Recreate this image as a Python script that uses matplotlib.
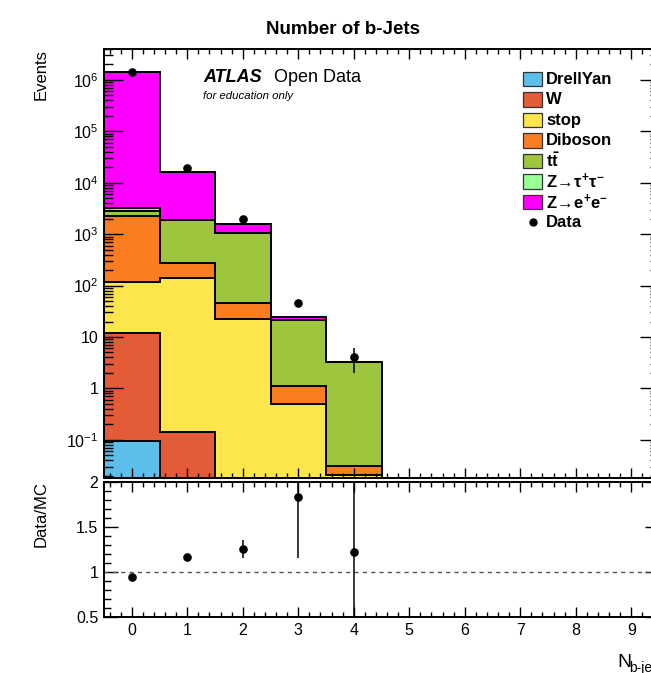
import numpy as np
import matplotlib
matplotlib.use('Agg')
import matplotlib.pyplot as plt
from matplotlib.patches import Rectangle
from matplotlib.lines import Line2D
from matplotlib.ticker import FixedLocator, FixedFormatter, MultipleLocator, LogLocator, NullFormatter

plt.rcParams['font.family'] = ['Liberation Sans', 'DejaVu Sans']
plt.rcParams['mathtext.fontset'] = 'custom'
plt.rcParams['mathtext.rm'] = 'Liberation Sans'
plt.rcParams['mathtext.it'] = 'Liberation Sans:italic'
plt.rcParams['mathtext.bf'] = 'Liberation Sans:bold'

# number of b-jets per bin, stacked MC from bottom to top
n_bjets = [0, 1, 2, 3, 4]
drellyan = [0.096, 0, 0, 0, 0]
w_jets = [11.8, 0.144, 0, 0, 0]
stop = [103, 139, 22.5, 0.49, 0.021]
diboson = [2155, 134, 24.3, 0.63, 0.010]
ttbar = [505, 1597, 998, 20.2, 3.30]
ztautau = [470, 0, 0, 0, 0]
zee = [1447000, 14390, 562, 3.7, 0]

data = [1410000, 19000, 2010, 45, 4]
ratio = [0.948, 1.17, 1.26, 1.83, 1.225]
ratio_err = [0.005, 0.01, 0.1, 0.67, 1.1]

labels = ['DrellYan', 'W', 'stop', 'Diboson', r'$\mathbf{t\bar{t}}$',
          r'$\mathbf{Z\!\rightarrow\!\tau^{+}\tau^{-}}$', r'$\mathbf{Z\!\rightarrow\!e^{+}e^{-}}$']
colors = ['#5cbfea', '#e35b37', '#fde54c', '#fa7d22', '#9ec53e', '#99ff99', '#ff00ff']

W, H = 651, 673
def fx(x):
    return x / W
def fy(y):
    return 1 - y / H

fig = plt.figure(figsize=(W / 100, H / 100), dpi=100)
ax_r = fig.add_axes([fx(104), fy(617), 555 / W, 135 / H])
ax = fig.add_axes([fx(104), fy(478), 555 / W, 429 / H])

edges = np.arange(len(n_bjets) + 1) - 0.5
stack = np.array([drellyan, w_jets, stop, diboson, ttbar, ztautau, zee], dtype=float)
cum = np.cumsum(stack, axis=0)
floor = 1e-6
for i in range(len(stack) - 1, -1, -1):
    vals = np.where(cum[i] > 0, cum[i], floor)
    ax.stairs(vals, edges, baseline=floor, fill=True, color=colors[i], lw=0)
    ax.stairs(vals, edges, baseline=floor, color='black', lw=1.4)

ax.errorbar(n_bjets, data, yerr=np.sqrt(data), fmt='o', color='black', ms=5.2,
            elinewidth=1.1, capsize=0, zorder=5)

ax.set_yscale('log')
ax.set_xlim(-0.5, 9.5)
ax.set_ylim(0.0181, 4.0e6)
yt = [1e-1, 1, 10, 1e2, 1e3, 1e4, 1e5, 1e6]
ax.yaxis.set_major_locator(FixedLocator(yt))
ax.yaxis.set_major_formatter(FixedFormatter([r'$10^{-1}$', '1', '10', r'$10^{2}$', r'$10^{3}$',
                                             r'$10^{4}$', r'$10^{5}$', r'$10^{6}$']))
ax.yaxis.set_minor_locator(LogLocator(base=10, subs=np.arange(2, 10), numticks=30))
ax.yaxis.set_minor_formatter(NullFormatter())
ax.xaxis.set_major_locator(MultipleLocator(1))
ax.xaxis.set_minor_locator(MultipleLocator(0.2))
ax.tick_params(which='both', direction='in', top=True, right=True, labelbottom=False,
               labelsize=11.5, width=1.0, pad=4)
ax.tick_params(axis='y', which='major', length=13.7)
ax.tick_params(axis='y', which='minor', length=6.5)
ax.tick_params(axis='x', which='major', length=7.2)
ax.tick_params(axis='x', which='minor', length=3.6)
for s in ax.spines.values():
    s.set_linewidth(1.4)

# ratio panel
ax_r.axhline(1, color='#555555', lw=1.0, ls=(0, (3, 3)))
ax_r.errorbar(n_bjets, ratio, yerr=ratio_err, fmt='o', color='black', ms=5.2,
              elinewidth=1.1, capsize=0, zorder=5)
ax_r.set_xlim(-0.5, 9.5)
ax_r.set_ylim(0.5, 2.0)
ax_r.xaxis.set_major_locator(MultipleLocator(1))
ax_r.xaxis.set_minor_locator(MultipleLocator(0.2))
ax_r.yaxis.set_major_locator(MultipleLocator(0.5))
ax_r.yaxis.set_minor_locator(MultipleLocator(0.1))
ax_r.yaxis.set_major_formatter(FixedFormatter(['0.5', '1', '1.5', '2']))
ax_r.yaxis.set_major_locator(FixedLocator([0.5, 1.0, 1.5, 2.0]))
ax_r.tick_params(which='both', direction='in', top=True, right=True, labelsize=11.5,
                 width=1.0, pad=4)
ax_r.tick_params(axis='y', which='major', length=10)
ax_r.tick_params(axis='y', which='minor', length=5)
ax_r.tick_params(axis='x', which='major', length=7.2)
ax_r.tick_params(axis='x', which='minor', length=3.6)
for s in ax_r.spines.values():
    s.set_linewidth(1.4)

# texts
fig.text(fx(343), fy(33.5), 'Number of b-Jets', ha='center', va='baseline',
         fontsize=13.5, fontweight='bold')
fig.text(fx(41), fy(49), 'Events', rotation=90, ha='center', va='top', fontsize=12)
fig.text(fx(41), fy(481), 'Data/MC', rotation=90, ha='center', va='top', fontsize=12)
fig.text(fx(203), fy(82), 'ATLAS', fontsize=13, fontweight='bold', fontstyle='italic',
         va='baseline')
fig.text(fx(274), fy(82), 'Open Data', fontsize=13, va='baseline')
fig.text(fx(203), fy(99), 'for education only', fontsize=8.2, fontstyle='italic',
         va='baseline')
fig.text(fx(617), fy(667), 'N', fontsize=14, va='baseline')
fig.text(fx(629), fy(672), 'b-jets', fontsize=10, va='baseline')

# legend
y0, dy = 79, 20.5
for k in range(len(labels)):
    yc = y0 + dy * k
    fig.add_artist(Rectangle((fx(523), fy(yc + 7)), 19 / W, 14 / H, transform=fig.transFigure,
                             facecolor=colors[k], edgecolor='#333333', lw=0.9))
    fig.text(fx(546), fy(yc), labels[k], fontsize=12, fontweight='bold', va='center')
yc = y0 + dy * len(labels)
fig.add_artist(Line2D([fx(533)], [fy(yc)], marker='o', ms=5, color='black',
                      transform=fig.transFigure))
fig.text(fx(546), fy(yc), 'Data', fontsize=12, fontweight='bold', va='center')

fig.savefig('out.png', dpi=100)
